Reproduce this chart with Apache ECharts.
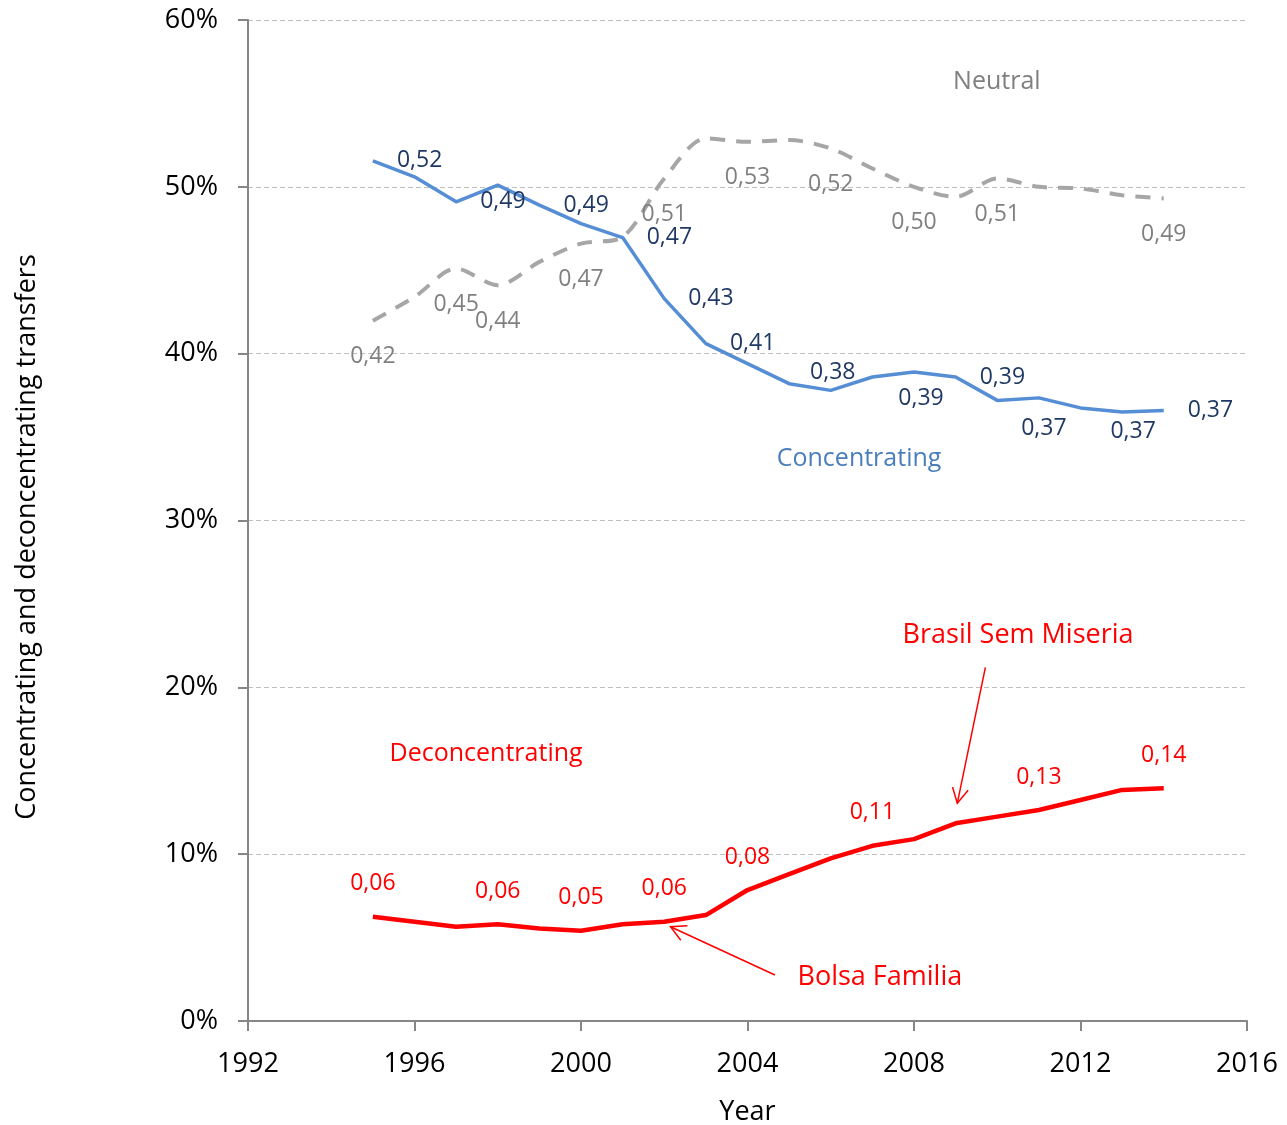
<!DOCTYPE html>
<html>
<head>
<meta charset="utf-8">
<script src="https://cdn.jsdelivr.net/npm/echarts@6/dist/echarts.min.js"></script>
<style>
html, body { margin: 0; padding: 0; background: #fff; }
#chart { width: 1287px; height: 1125px; }
</style>
</head>
<body>
<div id="chart"></div>
<script>
// values in percent
var years = [1995, 1996, 1997, 1998, 1999, 2000, 2001, 2002, 2003, 2004,
             2005, 2006, 2007, 2008, 2009, 2010, 2011, 2012, 2013, 2014];
var concentrating = [51.56, 50.6, 49.1, 50.1, 48.9, 47.8, 46.96, 43.3, 40.6, 39.4,
                     38.2, 37.8, 38.6, 38.9, 38.6, 37.2, 37.35, 36.75, 36.5, 36.6];
var neutral = [41.98, 43.4, 45.1, 44.1, 45.5, 46.6, 47.0, 50.5, 52.9, 52.7,
               52.8, 52.3, 51.1, 50.0, 49.4, 50.5, 50.0, 49.9, 49.5, 49.3];
var deconcentrating = [6.25, 5.95, 5.65, 5.8, 5.55, 5.41, 5.8, 5.95, 6.35, 7.85,
                       8.8, 9.75, 10.5, 10.9, 11.85, 12.25, 12.65, 13.25, 13.85, 13.95];

var yTitle = 'Concentrating and deconcentrating transfers';

// annotation texts and arrows, anchored in data units [year, percent]
var notes = [
    { text: 'Neutral', at: [2009.99, 56.29], color: '#808080', size: 25 },
    { text: 'Concentrating', at: [2006.68, 33.69], color: '#4A7EBB', size: 25 },
    { text: 'Deconcentrating', at: [1997.72, 16.0], color: '#FF0000', size: 25 },
    { text: 'Brasil Sem Miseria', at: [2010.5, 23.14], color: '#FF0000', size: 27 },
    { text: 'Bolsa Familia', at: [2007.18, 2.64], color: '#FF0000', size: 27 }
];
var arrows = [
    { from: [2009.715, 21.2], to: [2009.04, 13.05] },
    { from: [2004.66, 2.76], to: [2002.15, 5.65] }
];

// which points carry a data label: index -> [position, distance, offsetX]
var blueLabels = { 0: ['right', 24], 2: ['right', 24], 4: ['right', 24], 6: ['right', 24],
                   7: ['right', 24], 8: ['right', 24], 11: ['top', 6, 2], 13: ['bottom', 14, 7],
                   14: ['right', 24], 16: ['bottom', 19, 5], 18: ['bottom', 7, 11], 19: ['right', 24] };
var grayLabels = [0, 2, 3, 5, 7, 9, 11, 13, 15, 19];
var redLabels = [0, 3, 5, 7, 9, 12, 16, 19];

var FONT = '"Open Sans", sans-serif';

function fmt(v) {
    var r = Math.round(v);
    return '0,' + (r < 10 ? '0' + r : r);
}

function build(vals, labelAt) {
    return vals.map(function (v, i) {
        var item = { value: [years[i], v] };
        var cfg = labelAt[i];
        if (cfg) {
            item.label = {
                show: true,
                position: cfg[0],
                distance: cfg[1],
                offset: [cfg[2] || 0, 0]
            };
        }
        return item;
    });
}

function listToMap(list, pos, dist) {
    var m = {};
    list.forEach(function (i) { m[i] = [pos, dist]; });
    return m;
}

var chart = echarts.init(document.getElementById('chart'));

var labelBase = {
    show: false,
    fontFamily: FONT,
    fontSize: 23,
    lineHeight: 24,
    formatter: function (p) { return fmt(p.value[1]); }
};

chart.setOption({
    animation: false,
    grid: { left: 248, right: 40, top: 20, bottom: 104, containLabel: false, outerBoundsMode: 'none' },
    xAxis: {
        type: 'value',
        min: 1992,
        max: 2016,
        interval: 4,
        name: 'Year',
        nameLocation: 'middle',
        nameGap: 78,
        nameTextStyle: { fontFamily: FONT, fontSize: 27, color: '#000' },
        axisLine: { lineStyle: { color: '#868686', width: 2 } },
        axisTick: { show: true, length: 10, lineStyle: { color: '#868686', width: 2 } },
        axisLabel: {
            fontFamily: FONT, fontSize: 27, color: '#000', margin: 30,
            formatter: function (v) { return String(v); }
        },
        splitLine: { show: false }
    },
    yAxis: {
        type: 'value',
        min: 0,
        max: 60,
        interval: 10,
        axisLine: { show: true, lineStyle: { color: '#868686', width: 2 } },
        axisTick: { show: true, length: 10, lineStyle: { color: '#868686', width: 2 } },
        axisLabel: { fontFamily: FONT, fontSize: 27, color: '#000', margin: 30, formatter: '{value}%' },
        splitLine: { show: true, lineStyle: { color: '#BFBFBF', width: 1, type: [5, 3] } }
    },
    series: [
        {
            name: 'Neutral',
            type: 'line',
            smooth: 0.3,
            symbol: 'circle',
            symbolSize: 0,
            data: build(neutral, listToMap(grayLabels, 'bottom', 24)),
            lineStyle: { color: '#A6A6A6', width: 4, type: [15, 11] },
            itemStyle: { color: '#A6A6A6' },
            label: Object.assign({}, labelBase, { color: '#808080' }),
            z: 2
        },
        {
            name: 'Concentrating',
            type: 'line',
            symbol: 'circle',
            symbolSize: 0,
            data: build(concentrating, blueLabels),
            lineStyle: { color: '#558ED5', width: 3.5 },
            itemStyle: { color: '#558ED5' },
            label: Object.assign({}, labelBase, { color: '#1F3864' }),
            z: 3
        },
        {
            name: 'Deconcentrating',
            type: 'line',
            symbol: 'circle',
            symbolSize: 0,
            data: build(deconcentrating, listToMap(redLabels, 'top', 21)),
            lineStyle: { color: '#FF0000', width: 4.5 },
            itemStyle: { color: '#FF0000' },
            label: Object.assign({}, labelBase, { color: '#FF0000' }),
            z: 3
        }
    ]
});

// annotations placed through the grid's own scales
var graphics = [{
    type: 'text',
    x: 27,
    y: 537,
    rotation: Math.PI / 2,
    style: {
        text: yTitle,
        fill: '#000',
        fontFamily: FONT,
        fontSize: 27,
        align: 'center',
        verticalAlign: 'middle'
    }
}];
notes.forEach(function (n) {
    var p = chart.convertToPixel({ gridIndex: 0 }, n.at);
    graphics.push({
        type: 'text',
        x: p[0],
        y: p[1],
        style: {
            text: n.text,
            fill: n.color,
            fontFamily: FONT,
            fontSize: n.size,
            align: 'center',
            verticalAlign: 'middle'
        }
    });
});
arrows.forEach(function (a) {
    var s = chart.convertToPixel({ gridIndex: 0 }, a.from);
    var t = chart.convertToPixel({ gridIndex: 0 }, a.to);
    var dx = t[0] - s[0], dy = t[1] - s[1];
    var len = Math.sqrt(dx * dx + dy * dy);
    var ux = dx / len, uy = dy / len;
    var L = 17, ang = 28 * Math.PI / 180;
    var c = Math.cos(ang), sn = Math.sin(ang);
    var h1 = [t[0] - L * (ux * c - uy * sn), t[1] - L * (uy * c + ux * sn)];
    var h2 = [t[0] - L * (ux * c + uy * sn), t[1] - L * (uy * c - ux * sn)];
    graphics.push({
        type: 'line',
        shape: { x1: s[0], y1: s[1], x2: t[0], y2: t[1] },
        style: { stroke: '#FF0000', lineWidth: 1.5 }
    });
    graphics.push({
        type: 'polyline',
        shape: { points: [h1, t, h2] },
        style: { stroke: '#FF0000', lineWidth: 1.5, fill: null }
    });
});
chart.setOption({ graphic: graphics });
</script>
</body>
</html>
